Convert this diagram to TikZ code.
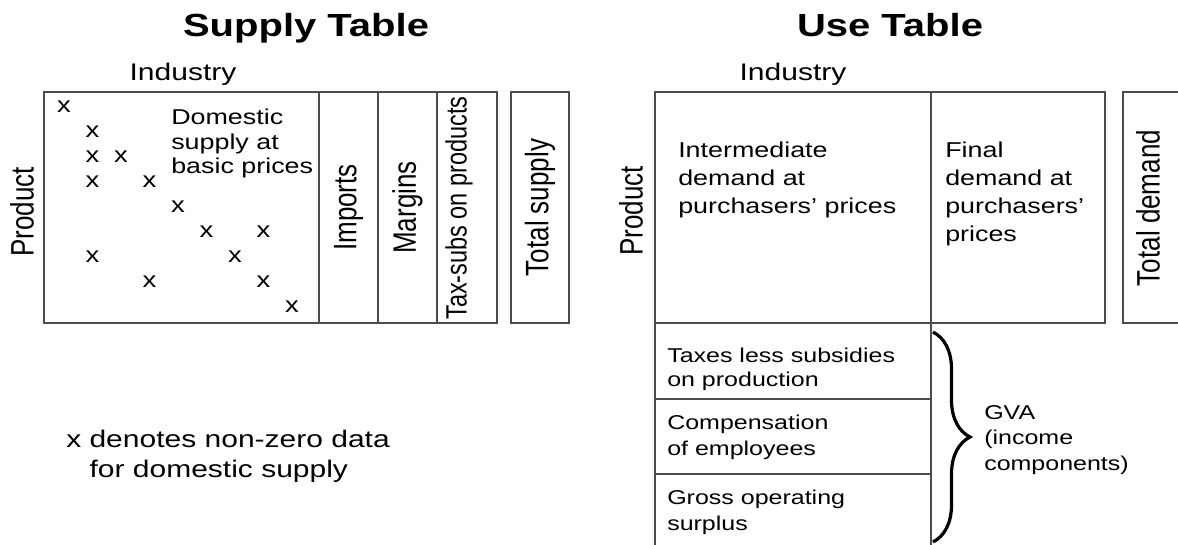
\documentclass[tikz,border=0pt]{standalone}
\usepackage{fontspec}
\setmainfont{Liberation Sans}
\usetikzlibrary{positioning, decorations.pathreplacing}

\begin{document}
\begin{tikzpicture}[x=1pt, y=-1pt,
    txt/.style={xscale=1.25, inner sep=0pt, align=left},
    title/.style={txt, font=\bfseries\fontsize{32}{36}\selectfont},
    head/.style={txt, font=\fontsize{24}{28}\selectfont},
    side/.style={txt, rotate=90, font=\fontsize{26}{30}\selectfont},
    body/.style={txt, font=\fontsize{21.5}{28}\selectfont},
    small/.style={txt, font=\fontsize{20}{26}\selectfont},
    xmark/.style={txt, font=\fontsize{22}{22}\selectfont},
    cell/.style={rectangle, draw=black!70, line width=1.3pt, inner sep=0pt, outer sep=0pt, anchor=north west, minimum height=231pt},
    brace/.style={decorate, decoration={brace, amplitude=37pt}, line width=3.2pt}
]
\useasboundingbox (0,0) rectangle (1178,545);

% ==== Supply table ====
\node[title, anchor=base] (supplytitle) at (306,37) {Supply Table};
\node[head, anchor=base] (supplyind) at (183,81) {Industry};
\node[side] (supplyprod) at (22,212) {Product};

\node[cell, minimum width=275pt] (domestic) at (44,92) {};
\node[cell, minimum width=59pt] (imports) at (domestic.north east) {};
\node[cell, minimum width=59pt] (margins) at (imports.north east) {};
\node[cell, minimum width=60pt] (taxsubs) at (margins.north east) {};
\node[cell, minimum width=58pt] (totsupply) at (511,92) {};

% multi-line texts: base = last line
\node[body, anchor=base west, font=\fontsize{21.5}{24.5}\selectfont] (domtext) at (171,174) {Domestic\\supply at\\basic prices};
\node[side] (importstext) at (imports.center) {Imports};
\node[side] (marginstext) at (margins.center) {Margins};
\node[side, font=\fontsize{23.5}{28}\selectfont] (taxsubstext) at (459,208) {Tax-subs on products};
\node[side] (totsupplytext) at (totsupply.center) {Total supply};

% ==== Non-zero entries ====
\foreach \c/\r in {1/1,2/2,2/3,3/3,2/4,4/4,5/5,6/6,8/6,2/7,7/7,4/8,8/8,9/9}
    \node[xmark] (x\c\r) at ({64+(\c-1)*28.5},{107+(\r-1)*25}) {x};

\node[txt, anchor=base west, font=\fontsize{24}{30}\selectfont] (legend) at (66,477) {x denotes non-zero data\\\phantom{x}\ for domestic supply};

% ==== Use table ====
\node[title, anchor=base] (usetitle) at (890,37) {Use Table};
\node[head, anchor=base] (useind) at (793,81) {Industry};
\node[side] (useprod) at (631,211) {Product};

\node[cell, minimum width=276pt] (interm) at (655,92) {};
\node[cell, minimum width=174pt] (final) at (interm.north east) {};
\node[cell, minimum width=70pt] (totdemand) at (1123,92) {};

\node[body, anchor=base west] (intermtext) at (678,214) {Intermediate\\demand at\\purchasers' prices};
\node[body, anchor=base west] (finaltext) at (945,242) {Final\\demand at\\purchasers'\\prices};
\node[side] (totdemandtext) at (1148,208) {Total demand};

% ==== Income components ====
\node[cell, minimum width=276pt, minimum height=76pt] (taxes) at (interm.south west) {};
\node[cell, minimum width=276pt, minimum height=75pt] (comp) at (taxes.south west) {};
\node[cell, minimum width=276pt, minimum height=85pt] (gos) at (comp.south west) {};

\node[small, anchor=base west, font=\fontsize{20}{24}\selectfont] (taxestext) at (667,386) {Taxes less subsidies\\on production};
\node[small, anchor=base west] (comptext) at (667,455) {Compensation\\of employees};
\node[small, anchor=base west] (gostext) at (667,530) {Gross operating\\surplus};

\coordinate (bracetop) at (933,332);
\coordinate (bracebot) at (933,542);
\draw[brace] (bracetop) -- (bracebot);
\node[small, anchor=base west, font=\fontsize{20}{25.5}\selectfont] (gva) at (984,470) {GVA\\(income\\components)};

\end{tikzpicture}
\end{document}
